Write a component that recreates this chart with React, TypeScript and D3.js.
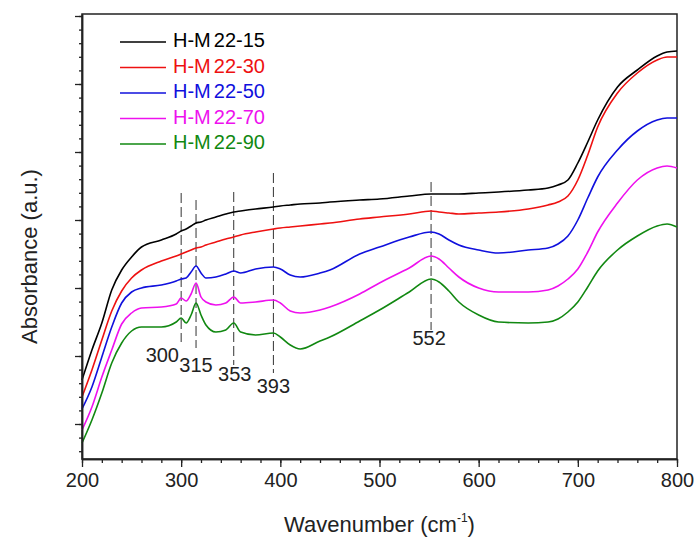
import React, { useEffect, useRef } from 'react';
import { scaleLinear, axisBottom, axisLeft, select, line, range, curveMonotoneX } from 'd3';

// wavenumber grid (cm-1) shared by all spectra
const wavenumbers = [
  200, 210, 220, 230, 240, 250, 260, 280, 295, 300, 305, 310, 315, 320, 325, 335, 345, 353, 360, 375,
  393, 400, 410, 420, 440, 450, 480, 500, 530, 552, 560, 570, 580, 600, 620, 650, 670, 680, 690, 700,
  710, 720, 740, 760, 780, 790, 800
];

// absorbance (a.u., stacked as in the figure)
const hm15 = [
  0.79, 1.09, 1.36, 1.69, 1.89, 2.02, 2.12, 2.19, 2.25, 2.28, 2.30, 2.33, 2.36, 2.37, 2.39, 2.42, 2.45, 2.47, 2.48, 2.50,
  2.52, 2.53, 2.54, 2.55, 2.56, 2.57, 2.59, 2.60, 2.63, 2.65, 2.65, 2.65, 2.65, 2.66, 2.67, 2.69, 2.71, 2.74, 2.79, 2.96,
  3.17, 3.39, 3.72, 3.89, 4.03, 4.07, 4.08
];
const hm30 = [
  0.62, 0.89, 1.19, 1.48, 1.68, 1.81, 1.89, 1.98, 2.03, 2.05, 2.07, 2.09, 2.11, 2.12, 2.14, 2.17, 2.20, 2.22, 2.24, 2.27,
  2.30, 2.31, 2.32, 2.33, 2.35, 2.36, 2.40, 2.42, 2.45, 2.48, 2.47, 2.46, 2.45, 2.46, 2.47, 2.50, 2.54, 2.57, 2.63, 2.79,
  3.04, 3.32, 3.66, 3.86, 3.99, 4.02, 4.02
];
const hm50 = [
  0.50, 0.72, 1.02, 1.32, 1.56, 1.67, 1.71, 1.74, 1.78, 1.80, 1.81, 1.87, 1.93, 1.86, 1.81, 1.82, 1.85, 1.88, 1.86, 1.90,
  1.92, 1.90, 1.84, 1.82, 1.86, 1.89, 2.05, 2.12, 2.22, 2.27, 2.25, 2.19, 2.14, 2.09, 2.06, 2.09, 2.11, 2.15, 2.23, 2.39,
  2.61, 2.82, 3.09, 3.28, 3.39, 3.41, 3.41
];
const hm70 = [
  0.29, 0.52, 0.82, 1.09, 1.35, 1.46, 1.51, 1.52, 1.55, 1.61, 1.58, 1.65, 1.76, 1.62, 1.57, 1.54, 1.56, 1.62, 1.56, 1.57,
  1.59, 1.56, 1.48, 1.46, 1.49, 1.52, 1.65, 1.76, 1.91, 2.03, 2.00, 1.91, 1.82, 1.71, 1.67, 1.67, 1.69, 1.73, 1.80, 1.90,
  2.07, 2.27, 2.56, 2.79, 2.91, 2.93, 2.91
];
const hm90 = [
  0.16, 0.39, 0.66, 0.96, 1.16, 1.28, 1.32, 1.32, 1.37, 1.41, 1.36, 1.44, 1.56, 1.44, 1.34, 1.27, 1.29, 1.36, 1.27, 1.24,
  1.26, 1.22, 1.14, 1.10, 1.18, 1.22, 1.38, 1.49, 1.67, 1.80, 1.77, 1.68, 1.57, 1.44, 1.37, 1.36, 1.37, 1.40, 1.47, 1.57,
  1.72, 1.88, 2.09, 2.23, 2.33, 2.35, 2.32
];

const seriesNames = ['H-M22-15', 'H-M22-30', 'H-M22-50', 'H-M22-70', 'H-M22-90'];
const seriesValues = [hm15, hm30, hm50, hm70, hm90];
const seriesColors = ['#000000', '#ee1111', '#1010dd', '#ee11ee', '#118811'];

// marked bands and extent of their dashed guide lines (a.u.)
const peakPositions = [300, 315, 353, 393, 552];
const peakLineTop = [2.66, 2.59, 2.67, 2.86, 2.77];
const peakLineBottom = [1.17, 1.11, 0.94, 0.86, 1.29];
const peakLabelY = [1.02, 0.92, 0.83, 0.71, 1.19];
const peakLabelX = [281, 315, 354, 393, 550];

const xMajorTicks = [200, 300, 400, 500, 600, 700, 800];

const dims = {
  width: 700,
  height: 539,
  left: 82,
  right: 677,
  top: 14,
  bottom: 459
};

const font = '"Liberation Sans", Arial, sans-serif';

export default function App() {
  const xAxisRef = useRef<SVGGElement>(null);
  const yAxisRef = useRef<SVGGElement>(null);

  const x = scaleLinear().domain([200, 800]).range([dims.left, dims.right]);
  const y = scaleLinear().domain([0, 4.45]).range([dims.bottom, dims.top]);

  // y ticks: majors every 0.68, four minors between (no labels)
  const yMinor = range(0, 33).map(i => 0.078 + i * 0.136).filter(v => v <= 4.45);
  const yMajor = yMinor.filter((_, i) => i % 5 === 2);

  useEffect(() => {
    const gx = select(xAxisRef.current);
    gx.selectAll('*').remove();
    gx.append('g')
      .call(axisBottom(x).tickValues(range(200, 801, 20)).tickSize(4).tickFormat(() => '').tickSizeOuter(0));
    gx.append('g')
      .call(axisBottom(x).tickValues(xMajorTicks).tickSize(8).tickPadding(6).tickSizeOuter(0));
    gx.selectAll('path.domain').attr('stroke', '#222').attr('stroke-width', 1.5);
    gx.selectAll('line').attr('stroke', '#222').attr('stroke-width', 1.3);
    gx.selectAll('text')
      .attr('font-family', font)
      .attr('font-size', 20)
      .attr('fill', '#222');

    const gy = select(yAxisRef.current);
    gy.selectAll('*').remove();
    gy.append('g')
      .call(axisLeft(y).tickValues(yMinor).tickSize(3).tickFormat(() => '').tickSizeOuter(0));
    gy.append('g')
      .call(axisLeft(y).tickValues(yMajor).tickSize(7).tickFormat(() => '').tickSizeOuter(0));
    gy.selectAll('path.domain').attr('stroke', '#222').attr('stroke-width', 1.5);
    gy.selectAll('line').attr('stroke', '#222').attr('stroke-width', 1.3);
  }, []);

  const path = line<number>()
    .x((_, i) => x(wavenumbers[i]))
    .y(d => y(d))
    .curve(curveMonotoneX);

  return (
    <div style={{ position: 'absolute', left: 0, top: 0 }}>
      <svg width={dims.width} height={dims.height} style={{ display: 'block', background: '#fff' }}>
        {/* frame */}
        <rect x={dims.left} y={dims.top} width={dims.right - dims.left} height={dims.bottom - dims.top}
          fill="none" stroke="#222" strokeWidth={1.5} />

        {/* dashed guides */}
        {peakPositions.map((p, i) => (
          <line key={'d' + p} x1={x(p)} x2={x(p)} y1={y(peakLineTop[i])} y2={y(peakLineBottom[i])}
            stroke="#333" strokeWidth={1} strokeDasharray="10,4" />
        ))}

        {/* spectra */}
        {seriesValues.map((vals, i) => (
          <path key={seriesNames[i]} d={path(vals) || ''} fill="none" stroke={seriesColors[i]}
            strokeWidth={1.6} strokeLinejoin="round" />
        ))}

        {/* peak labels */}
        {peakPositions.map((p, i) => (
          <text key={'l' + p} x={x(peakLabelX[i])} y={y(peakLabelY[i])} textAnchor="middle"
            dominantBaseline="middle" fontFamily={font} fontSize={20} fill="#222">{p}</text>
        ))}

        {/* legend */}
        {seriesNames.map((name, i) => {
          const ly = 42 + i * 25.5;
          return (
            <g key={'lg' + name}>
              <line x1={120} x2={166} y1={ly} y2={ly} stroke={seriesColors[i]} strokeWidth={1.5} />
              <text x={173} y={ly} dominantBaseline="middle" fontFamily={font} fontSize={20} fill={seriesColors[i]}>
                {name.slice(0, 3)}<tspan dx={3}>{name.slice(3)}</tspan>
              </text>
            </g>
          );
        })}

        <g ref={xAxisRef} transform={`translate(0,${dims.bottom})`} />
        <g ref={yAxisRef} transform={`translate(${dims.left},0)`} />

        {/* axis titles */}
        <text x={(dims.left + dims.right) / 2} y={532} textAnchor="middle" fontFamily={font} fontSize={22} fill="#222">
          Wavenumber (cm<tspan fontSize={12} dy={-10}>-1</tspan><tspan dy={10}>)</tspan>
        </text>
        <text transform={`translate(37,${(dims.top + dims.bottom) / 2 + 20}) rotate(-90)`} textAnchor="middle"
          fontFamily={font} fontSize={22} fill="#222">
          Absorbance (a.u.)
        </text>
      </svg>
    </div>
  );
}
